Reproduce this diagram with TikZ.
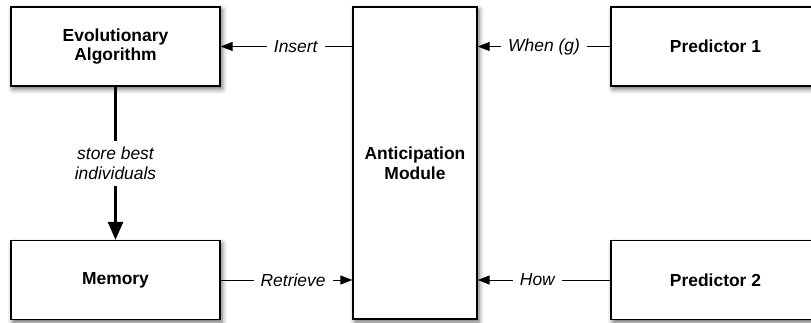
\documentclass[tikz,border=0pt]{standalone}
\usepackage{fontspec}
\setmainfont{Liberation Sans}
\usetikzlibrary{arrows.meta, shadows.blur}

\begin{document}
\begin{tikzpicture}[
        x=1bp, y=1bp,
        font=\fontsize{17.5}{20}\selectfont,
        box/.style={draw=black, line width=1.3bp, fill=white, align=center,
            font=\fontsize{17.5}{20}\selectfont\bfseries,
            blur shadow={shadow xshift=2bp, shadow yshift=-3bp, shadow blur radius=5bp, shadow opacity=60}},
        link/.style={line width=0.9bp, -{Triangle[length=12bp, width=9bp]}},
        store/.style={line width=2.6bp, -{Triangle[length=18bp, width=15bp]}},
        lbl/.style={fill=white, font=\fontsize{17.5}{20}\selectfont\itshape, inner xsep=7bp, align=center}
    ]
        \clip (0,0) rectangle (811,322);

        % Boxes
        \node[box, minimum width=209bp, minimum height=79bp] (ea) at (115.5,275.5) {Evolutionary\\Algorithm};
        \node[box, minimum width=209bp, minimum height=79bp] (mem) at (115.5,42) {Memory};
        \node[box, minimum width=124bp, minimum height=312bp] (anti) at (415,159) {Anticipation\\Module};
        \node[box, minimum width=209bp, minimum height=79bp] (pred1) at (715.5,275.5) {Predictor 1};
        \node[box, minimum width=209bp, minimum height=79bp] (pred2) at (715.5,42) {Predictor 2};

        % Anchors on the anticipation module
        \coordinate (antiA) at (anti.west |- ea.east);
        \coordinate (antiB) at (anti.west |- mem.east);
        \coordinate (antiC) at (anti.east |- pred1.west);
        \coordinate (antiD) at (anti.east |- pred2.west);

        % Connectors
        \draw[store] (ea.south) -- node[lbl, inner ysep=6bp] {store best\\individuals} (mem.north);
        \draw[link] (antiA) -- node[lbl, pos=0.43] {Insert} (ea.east);
        \draw[link] (mem.east) -- node[lbl, pos=0.55] {Retrieve} (antiB);
        \draw[link] (pred1.west) -- node[lbl] {When (g)} (antiC);
        \draw[link] (pred2.west) -- node[lbl, pos=0.55] {How} (antiD);

    \end{tikzpicture}
\end{document}
